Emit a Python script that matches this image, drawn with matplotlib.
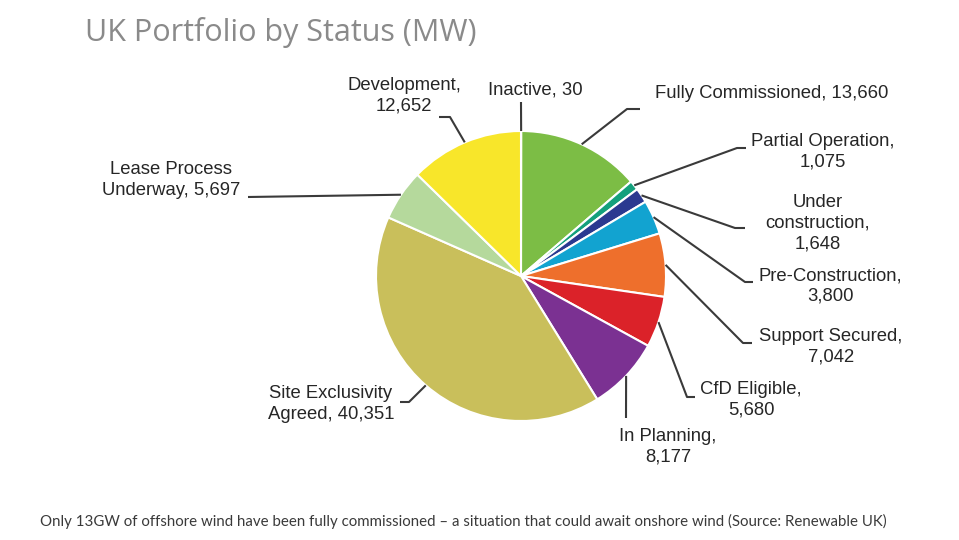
import numpy as np
import matplotlib
matplotlib.use('Agg')
import matplotlib.pyplot as plt

# Данные
labels = ['Inactive', 'Fully Commissioned', 'Partial Operation', 'Under\nconstruction',
          'Pre-Construction', 'Support Secured', 'CfD Eligible', 'In Planning',
          'Site Exclusivity\nAgreed', 'Lease Process\nUnderway', 'Development']
values = [30, 13660, 1075, 1648, 3800, 7042, 5680, 8177, 40351, 5697, 12652]
colors = ['#7cbd45', '#7cbd45', '#13a07c', '#2b3990', '#12a3d0', '#ee6f2c',
          '#db2229', '#7b3192', '#c9bf5b', '#b5d99c', '#f8e62a']

# Раскладка подписей (в пикселях картинки): текст, выравнивание, разделитель, излом линии, конец линии
H = 540
layout = {
    'Inactive':            ((535, 90), 'center', ', ', (521, 102), (521, 102)),
    'Fully Commissioned':  ((655, 93), 'left', ', ', (627, 109), (640, 109)),
    'Partial Operation':   ((823, 152), 'center', ',\n', (737, 148), (746, 148)),
    'Under\nconstruction': ((818, 223), 'center', ',\n', (735, 228), (745, 228)),
    'Pre-Construction':    ((830, 286), 'center', ',\n', (745, 282), (753, 282)),
    'Support Secured':     ((831, 347), 'center', ',\n', (743, 343), (752, 343)),
    'CfD Eligible':        ((751, 400), 'center', ',\n', (687, 397), (695, 397)),
    'In Planning':         ((668, 447), 'center', ',\n', (626, 418), (626, 418)),
    'Site Exclusivity\nAgreed': ((331, 404), 'center', ', ', (409, 402), (400, 402)),
    'Lease Process\nUnderway':  ((171, 180), 'center', ', ', (248, 197), (248, 197)),
    'Development':         ((404, 96), 'center', ',\n', (450, 117), (439, 117)),
}

center = (521, H - 276)
radius = 145

fig = plt.figure(figsize=(9.59, 5.40), dpi=100)
ax = fig.add_axes([0, 0, 1, 1])

wedges, _ = ax.pie(values, colors=colors, startangle=90, counterclock=False,
                   center=center, radius=radius,
                   wedgeprops=dict(edgecolor='white', linewidth=1.5))
ax.set_xlim(0, 959)
ax.set_ylim(0, H)
ax.set_aspect('equal')
ax.axis('off')

for w, lab, val in zip(wedges, labels, values):
    (tx, ty), ha, sep, elbow, end = layout[lab]
    ang = np.deg2rad((w.theta1 + w.theta2) / 2)
    ax_ = center[0] + radius * np.cos(ang)
    ay_ = center[1] + radius * np.sin(ang)
    xs = [ax_, elbow[0], end[0]]
    ys = [ay_, H - elbow[1], H - end[1]]
    ax.plot(xs, ys, color='#3a3a3a', lw=1.5, solid_capstyle='butt')
    ax.text(tx, H - ty, f'{lab}{sep}{val:,}', ha=ha, va='center',
            multialignment='center' if ha == 'center' else 'left',
            fontsize=13.3, family='Liberation Sans', color='#262626', linespacing=1.3)

# Заголовок и подпись
ax.text(85, H - 33, 'UK Portfolio by Status (MW)', ha='left', va='center',
        fontsize=22, family='Open Sans', color='#8a8a8a')
ax.text(40, H - 521, 'Only 13GW of offshore wind have been fully commissioned \u2013 a situation '
        'that could await onshore wind (Source: Renewable UK)', ha='left', va='center',
        fontsize=10.8, family='Lato', color='#3a3a3a')

plt.savefig('out.png', dpi=100)
plt.close()
